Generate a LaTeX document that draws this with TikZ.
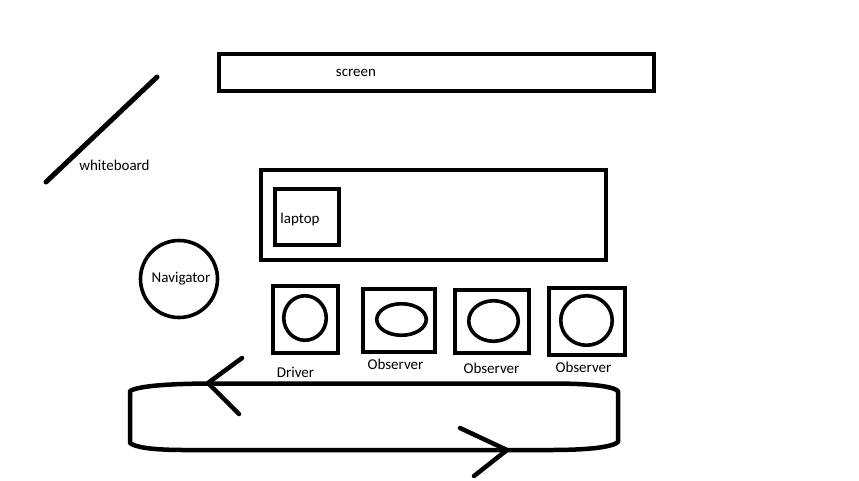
\documentclass[tikz,border=0pt]{standalone}
\usepackage{fontspec}
\setmainfont{Carlito}
\usetikzlibrary{shapes.geometric}
\begin{document}
\begin{tikzpicture}[x=1pt,y=-1pt,
  lbl/.style={inner sep=0pt,font=\fontsize{15}{18}\selectfont},
  box/.style={draw,line width=4pt,inner sep=0pt},
  seat/.style={draw,ellipse,line width=3.6pt,inner sep=0pt},
  stroke/.style={line width=4.5pt,line cap=round,line join=round}]
\useasboundingbox[fill=white] (0,0) rectangle (859,480);
% screen
\node[box,minimum width=435pt,minimum height=37pt] (screen) at (436.5,72.5) {};
\node[lbl] (screenlbl) at (356,73) {screen};
% whiteboard
\coordinate (wb1) at (46,182);
\coordinate (wb2) at (157,77);
\draw[line width=5pt,line cap=round] (wb1) -- (wb2);
\node[lbl] (wblbl) at (114.5,165) {whiteboard};
% table and laptop
\node[box,minimum width=345pt,minimum height=90pt] (table) at (433.5,215) {};
\node[box,minimum width=64pt,minimum height=56pt] (laptop) at (307,217) {};
\node[lbl] (laptoplbl) at (300,219) {laptop};
% navigator
\node[draw,circle,line width=3.6pt,minimum size=77pt,inner sep=0pt] (nav) at (179,279) {};
\node[lbl] (navlbl) at (181,278.5) {Navigator};
% seats
\node[box,minimum width=65pt,minimum height=67pt] (dbox) at (305.5,319.5) {};
\node[seat,minimum width=42.5pt,minimum height=44.5pt] (dseat) at (305,318) {};
\node[lbl] (dlbl) at (295.5,372) {Driver};
\node[box,minimum width=72pt,minimum height=63pt] (o1box) at (399,320.5) {};
\node[seat,minimum width=49.5pt,minimum height=31.5pt] (o1seat) at (401.5,319.5) {};
\node[lbl] (o1lbl) at (395.5,364.5) {Observer};
\node[box,minimum width=74pt,minimum height=63pt] (o2box) at (492,321.5) {};
\node[seat,minimum width=49.5pt,minimum height=40.5pt] (o2seat) at (493.5,321) {};
\node[lbl] (o2lbl) at (491.5,368.5) {Observer};
\node[box,minimum width=76pt,minimum height=67pt] (o3box) at (587,321.5) {};
\node[seat,minimum width=51.5pt,minimum height=49.5pt] (o3seat) at (586.5,320.5) {};
\node[lbl] (o3lbl) at (583.5,367.5) {Observer};
% rotation loop
\draw[stroke] (130,391) .. controls (140,385) and (180,383.5) .. (215,383.5)
  -- (550,383.5) .. controls (590,383.5) and (612,386) .. (618,391)
  -- (618,442) .. controls (612,447) and (590,450) .. (550,450)
  -- (185,450) .. controls (150,450) and (135,447) .. (130,443) -- cycle;
\coordinate (a1s) at (242,358);
\coordinate (a1t) at (208,383);
\coordinate (a1e) at (239,414);
\draw[stroke] (a1s) -- (a1t) -- (a1e);
\coordinate (a2s) at (460,428);
\coordinate (a2t) at (507,450);
\coordinate (a2e) at (474,476);
\draw[stroke] (a2s) -- (a2t) -- (a2e);
\end{tikzpicture}
\end{document}
